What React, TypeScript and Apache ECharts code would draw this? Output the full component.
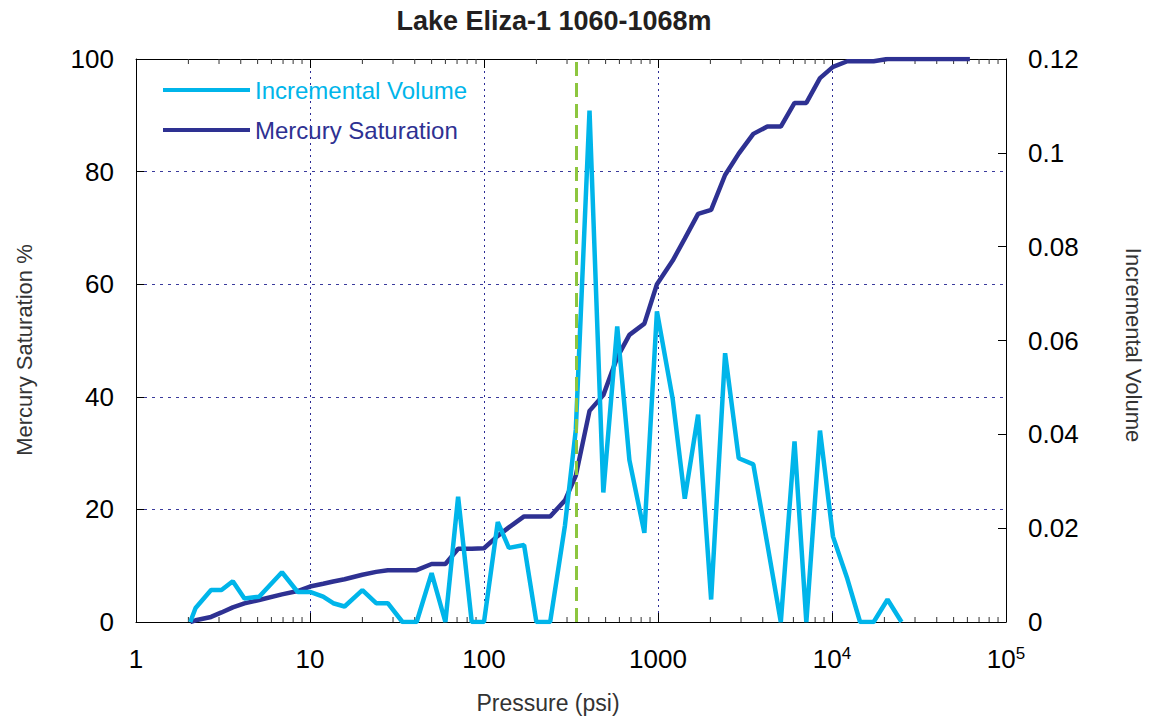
import React, { useEffect, useRef } from "react";
import * as echarts from "echarts";

const FONT = "'Liberation Sans', Arial, Helvetica, sans-serif";
const LIGHT = "#00b5ea";
const DARK = "#2e3192";
const GREEN = "#8dc63f";

const titleText = "Lake Eliza-1 1060-1068m";
const xName = "Pressure (psi)";
const yLeftName = "Mercury Saturation %";
const yRightName = "Incremental Volume";
const seriesNames = ["Incremental Volume", "Mercury Saturation"];

const pressure = [
  2.05, 2.2, 2.7, 3.1, 3.6, 4.2, 5.1, 6.9, 8.5, 10, 11.9, 13.6, 15.8, 20, 24, 28,
  34, 41, 50, 60, 71, 85, 100, 120, 139, 170, 200, 240, 292, 337, 404, 485, 583,
  685, 835, 986, 1215, 1425, 1700, 2020, 2430, 2910, 3530, 4250, 5080, 6090, 7120,
  8530, 10130, 12250, 14500, 17350, 20850, 25100, 30000, 40000, 50000, 62000,
];

const mercurySaturation = [
  0, 0.3, 0.9, 1.7, 2.6, 3.3, 3.9, 4.9, 5.5, 6.3, 6.8, 7.2, 7.6, 8.4, 8.9, 9.2,
  9.2, 9.2, 10.3, 10.3, 13.0, 13.0, 13.1, 15.3, 16.8, 18.75, 18.75, 18.75, 21.6, 26,
  37.5, 40.3, 47, 51, 53, 60, 64.2, 68.1, 72.5, 73.2, 79.4, 83.2, 86.7, 88, 88,
  92.2, 92.2, 96.6, 98.6, 99.6, 99.6, 99.6, 100, 100, 100, 100, 100, 100,
];

const incrementalVolume = [
  0, 0.003, 0.0068, 0.0068, 0.0087, 0.005, 0.0054, 0.0106, 0.0064, 0.0064, 0.0054,
  0.004, 0.0033, 0.0068, 0.004, 0.004, 0, 0, 0.0104, 0, 0.0267, 0, 0, 0.0213,
  0.0158, 0.0164, 0, 0, 0.0206, 0.041, 0.109, 0.0276, 0.063, 0.0345, 0.019, 0.0662,
  0.0475, 0.0263, 0.0442, 0.0048, 0.0573, 0.0349, 0.0336, 0.0166, 0, 0.0385, 0,
  0.0408, 0.0182, 0.0092, 0, 0, 0.0048, 0, null, null, null, null,
];

const thresholdPressure = 340;

const xMin = 1;
const xMax = 100000;
const satMax = 100;
const satInterval = 20;
const volMax = 0.12;
const volInterval = 0.02;

// log-axis minor tick positions: mantissas 2..9 in each decade
const minorMantissas = [2, 3, 4, 5, 6, 7, 8, 9];
const decades = [1, 10, 100, 1000, 10000];

export default function App() {
  const ref = useRef<HTMLDivElement>(null);

  useEffect(() => {
    if (!ref.current) return;
    const chart = echarts.init(ref.current, undefined, { renderer: "svg" });

    const minorTicks: number[][] = [];
    decades.forEach((d) => minorMantissas.forEach((m) => minorTicks.push([m * d, 0])));

    const xLabelFormatter = (v: number) => {
      const e = Math.round(Math.log10(v));
      if (e <= 3) return "{base|" + String(Math.round(v)) + "}";
      return "{base|10}{sup|" + e + "}";
    };

    const baseX = {
      type: "log",
      logBase: 10,
      min: xMin,
      max: xMax,
      axisLine: { show: true, onZero: false, lineStyle: { color: "#000", width: 1 } },
      axisTick: { show: true, inside: true, length: 9, lineStyle: { color: "#000", width: 1 } },
      minorTick: { show: false },
    };

    chart.setOption({
      animation: false,
      backgroundColor: "#fff",
      textStyle: { fontFamily: FONT },
      grid: { left: 136, right: 152, top: 59, bottom: 96, containLabel: false },
      legend: {
        orient: "vertical",
        left: 158,
        top: 73,
        itemWidth: 87,
        itemHeight: 4,
        itemGap: 16,
        icon: "rect",
        textStyle: { fontSize: 24, fontFamily: FONT },
        data: [
          { name: seriesNames[0], textStyle: { color: LIGHT } },
          { name: seriesNames[1], textStyle: { color: DARK } },
        ],
      },
      graphic: [
        {
          type: "text",
          x: 554,
          y: 21,
          style: {
            text: titleText,
            fontFamily: FONT,
            fontWeight: "bold",
            fontSize: 27,
            fill: "#231f20",
            align: "center",
            verticalAlign: "middle",
          },
        },
        {
          type: "text",
          x: 548,
          y: 703,
          style: {
            text: xName,
            fontFamily: FONT,
            fontSize: 23,
            fill: "#333",
            align: "center",
            verticalAlign: "middle",
          },
        },
        {
          type: "text",
          x: 24,
          y: 350,
          rotation: Math.PI / 2,
          style: {
            text: yLeftName,
            fontFamily: FONT,
            fontSize: 22,
            fill: "#333",
            align: "center",
            verticalAlign: "middle",
          },
        },
        {
          type: "text",
          x: 1133,
          y: 345,
          rotation: -Math.PI / 2,
          style: {
            text: yRightName,
            fontFamily: FONT,
            fontSize: 22,
            fill: "#333",
            align: "center",
            verticalAlign: "middle",
          },
        },
      ],
      xAxis: [
        {
          ...baseX,
          position: "bottom",
          splitLine: { show: true, lineStyle: { color: "#2b2b95", width: 1, type: [2, 4] } },
          axisLabel: {
            show: true,
            margin: 23,
            formatter: xLabelFormatter,
            rich: {
              base: { fontSize: 26, fontFamily: FONT, color: "#000", lineHeight: 28 },
              sup: { fontSize: 17, fontFamily: FONT, color: "#000", verticalAlign: "top", lineHeight: 28 },
            },
          },
        },
        {
          ...baseX,
          position: "top",
          splitLine: { show: false },
          axisLabel: { show: false },
        },
      ],
      yAxis: [
        {
          type: "value",
          position: "left",
          min: 0,
          max: satMax,
          interval: satInterval,
          axisLine: { show: true, lineStyle: { color: "#000", width: 1 } },
          axisTick: { show: true, inside: true, length: 8, lineStyle: { color: "#000" } },
          splitLine: { show: true, lineStyle: { color: "#3a3a9c", width: 1, type: [3, 5] } },
          axisLabel: { fontSize: 26, color: "#000", margin: 22, fontFamily: FONT },
        },
        {
          type: "value",
          position: "right",
          min: 0,
          max: volMax,
          interval: volInterval,
          axisLine: { show: true, lineStyle: { color: "#000", width: 1 } },
          axisTick: { show: true, inside: true, length: 8, lineStyle: { color: "#000" } },
          splitLine: { show: false },
          axisLabel: { fontSize: 26, color: "#000", margin: 22, fontFamily: FONT },
        },
      ],
      series: [
        {
          name: "minorTicks",
          type: "custom",
          xAxisIndex: 0,
          yAxisIndex: 0,
          silent: true,
          z: 1,
          encode: { x: 0, y: 1 },
          data: minorTicks,
          renderItem: (params: any, api: any) => {
            const v = api.value(0);
            const b = api.coord([v, 0]);
            const t = api.coord([v, satMax]);
            return {
              type: "group",
              children: [
                {
                  type: "line",
                  shape: { x1: b[0], y1: b[1], x2: b[0], y2: b[1] - 5 },
                  style: { stroke: "#333", lineWidth: 1 },
                },
                {
                  type: "line",
                  shape: { x1: t[0], y1: t[1], x2: t[0], y2: t[1] + 5 },
                  style: { stroke: "#333", lineWidth: 1 },
                },
              ],
            };
          },
        },
        {
          name: seriesNames[1],
          type: "line",
          xAxisIndex: 0,
          yAxisIndex: 0,
          data: pressure.map((p, i) => [p, mercurySaturation[i]]),
          symbol: "none",
          lineStyle: { color: DARK, width: 4.5 },
          itemStyle: { color: DARK },
          z: 3,
          markLine: {
            silent: true,
            symbol: ["none", "none"],
            label: { show: false },
            lineStyle: { color: GREEN, width: 3, type: [14, 7] },
            data: [{ xAxis: thresholdPressure }],
          },
        },
        {
          name: seriesNames[0],
          type: "line",
          xAxisIndex: 0,
          yAxisIndex: 1,
          data: pressure.map((p, i) => [p, incrementalVolume[i]]),
          symbol: "none",
          connectNulls: false,
          lineStyle: { color: LIGHT, width: 4.5 },
          itemStyle: { color: LIGHT },
          z: 4,
        },
      ],
    });

    return () => chart.dispose();
  }, []);

  return (
    <div
      ref={ref}
      style={{ position: "absolute", left: 0, top: 0, width: 1158, height: 718, background: "#fff" }}
    />
  );
}
